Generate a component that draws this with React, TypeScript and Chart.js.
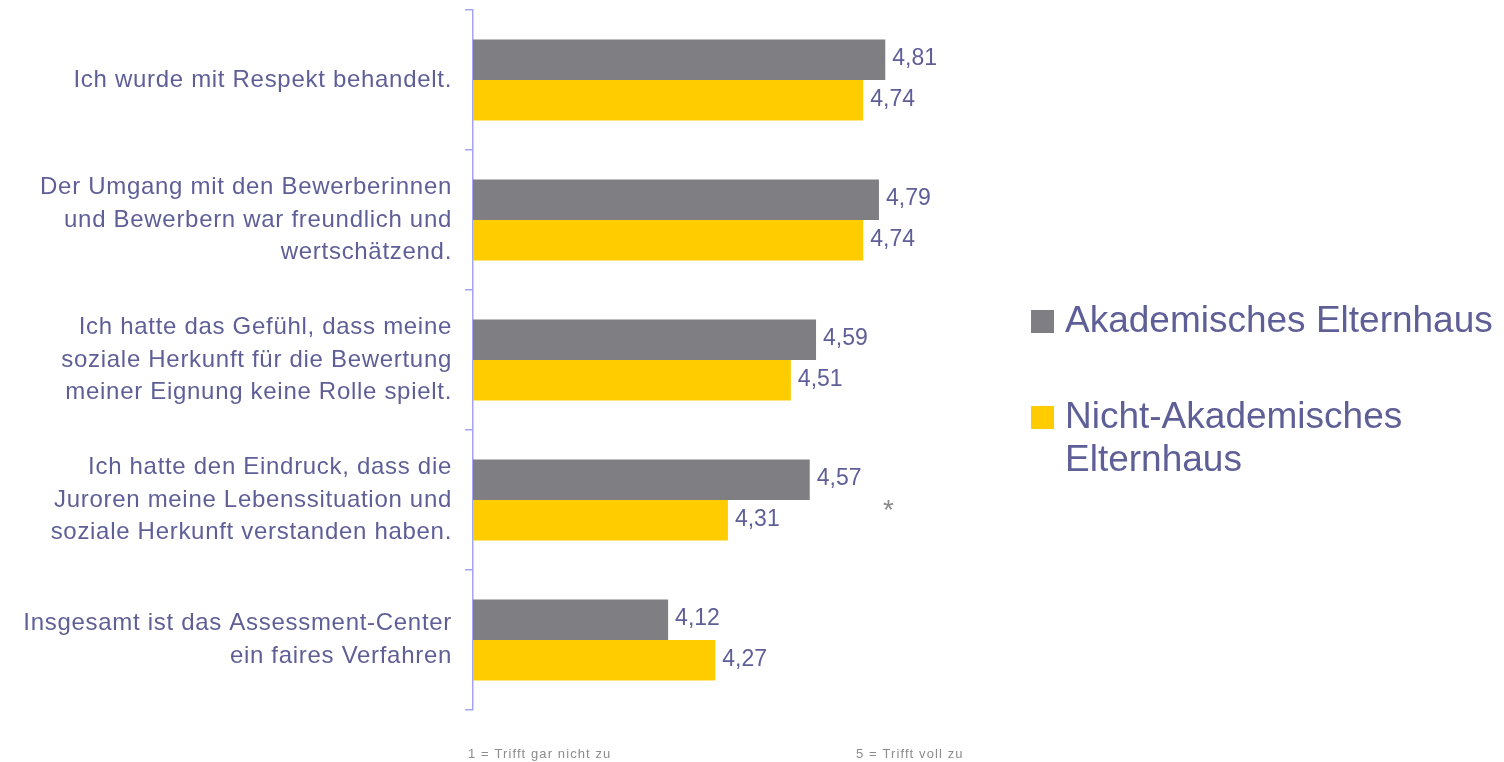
import React, { useEffect, useRef } from "react";
import { Chart, registerables } from "chart.js";

Chart.register(...registerables);

const CATEGORIES: string[][] = [
  ["Ich wurde mit Respekt behandelt."],
  ["Der Umgang mit den Bewerberinnen", "und Bewerbern war freundlich und", "wertschätzend."],
  ["Ich hatte das Gefühl, dass meine", "soziale Herkunft für die Bewertung", "meiner Eignung keine Rolle spielt."],
  ["Ich hatte den Eindruck, dass die", "Juroren meine Lebenssituation und", "soziale Herkunft verstanden haben."],
  ["Insgesamt ist das Assessment-Center", "ein faires Verfahren"],
];

const SERIES_NAMES = ["Akademisches Elternhaus", "Nicht-Akademisches Elternhaus"];
const LEGEND_LINES: string[][] = [["Akademisches Elternhaus"], ["Nicht-Akademisches", "Elternhaus"]];
const AKADEMISCH = [4.81, 4.79, 4.59, 4.57, 4.12];
const NICHT_AKADEMISCH = [4.74, 4.74, 4.51, 4.31, 4.27];
const SIGNIFICANCE = ["", "", "", "*", ""];
const STAR_VALUE = 4.82;
const SCALE_NOTES = ["1 = Trifft gar nicht zu", "5 = Trifft voll zu"];

const X_MIN = 3.5;
const X_MAX = 5.2;

const GRAY = "#7f7e83";
const YELLOW = "#ffcc00";
const PURPLE = "#5f5f98";
const AXIS = "#a4a4f4";
const FONT = "'Liberation Sans', Arial, sans-serif";

export default function App() {
  const ref = useRef<HTMLCanvasElement | null>(null);

  useEffect(() => {
    document.body.style.margin = "0";
    const canvas = ref.current;
    if (!canvas) return;

    const spacingPlugin = {
      id: "spacing",
      beforeUpdate(chart: any) {
        chart.ctx.letterSpacing = "0.7px";
      },
      beforeDraw(chart: any) {
        chart.ctx.letterSpacing = "0.7px";
      },
    };

    const overlayPlugin = {
      id: "overlay",
      afterDatasetsDraw(chart: any) {
        const ctx = chart.ctx as CanvasRenderingContext2D;
        ctx.save();
        ctx.letterSpacing = "0px";
        ctx.font = `23px ${FONT}`;
        ctx.fillStyle = PURPLE;
        ctx.textAlign = "left";
        ctx.textBaseline = "middle";
        chart.data.datasets.forEach((ds: any, di: number) => {
          const meta = chart.getDatasetMeta(di);
          meta.data.forEach((el: any, i: number) => {
            const v = ds.data[i] as number;
            ctx.fillText(v.toFixed(2).replace(".", ","), el.x + 7, el.y - 1);
          });
        });

        // significance markers
        const xs = chart.scales.x;
        const ys = chart.scales.y;
        ctx.font = `28px ${FONT}`;
        ctx.fillStyle = "#8a8a8a";
        ctx.textAlign = "center";
        ctx.textBaseline = "alphabetic";
        SIGNIFICANCE.forEach((s, i) => {
          if (!s) return;
          ctx.fillText(s, xs.getPixelForValue(STAR_VALUE), ys.getPixelForValue(i) + 19);
        });

        // legend
        const colors = [GRAY, YELLOW];
        const legendTops = [310, 406];
        ctx.font = `37px ${FONT}`;
        ctx.textAlign = "left";
        LEGEND_LINES.forEach((lines, i) => {
          ctx.fillStyle = colors[i];
          ctx.fillRect(1031, legendTops[i], 23, 23);
          ctx.fillStyle = PURPLE;
          lines.forEach((line, j) => {
            ctx.fillText(line, 1065, legendTops[i] + 22 + j * 43);
          });
        });

        // scale notes
        ctx.font = `13px ${FONT}`;
        ctx.letterSpacing = "1.1px";
        ctx.fillStyle = "#8c8c8c";
        ctx.fillText(SCALE_NOTES[0], 468, 758);
        ctx.fillText(SCALE_NOTES[1], 856, 758);
        ctx.restore();
      },
    };

    const chart = new Chart(canvas, {
      type: "bar",
      data: {
        labels: CATEGORIES,
        datasets: [
          {
            label: SERIES_NAMES[0],
            data: AKADEMISCH,
            backgroundColor: GRAY,
            borderWidth: 0,
            categoryPercentage: 0.58,
            barPercentage: 1,
          },
          {
            label: SERIES_NAMES[1],
            data: NICHT_AKADEMISCH,
            backgroundColor: YELLOW,
            borderWidth: 0,
            categoryPercentage: 0.58,
            barPercentage: 1,
          },
        ],
      },
      options: {
        indexAxis: "y",
        animation: false,
        responsive: false,
        maintainAspectRatio: false,
        layout: { padding: { left: 0, top: 10, bottom: 52, right: 496 } },
        plugins: {
          legend: { display: false },
          tooltip: { enabled: false },
        },
        scales: {
          x: {
            display: false,
            min: X_MIN,
            max: X_MAX,
          },
          y: {
            afterFit: (s: any) => {
              s.width = 473;
              s.paddingTop = 0;
              s.paddingBottom = 0;
            },
            border: { display: true, color: AXIS, width: 1.5 },
            grid: {
              display: true,
              drawOnChartArea: false,
              drawTicks: true,
              tickLength: 8,
              color: AXIS,
              lineWidth: 1.5,
              offset: true,
            },
            ticks: {
              color: PURPLE,
              padding: 13,
              font: { family: FONT, size: 24, lineHeight: 1.35 },
              crossAlign: "near",
            },
          },
        },
      },
      plugins: [spacingPlugin, overlayPlugin],
    });

    return () => chart.destroy();
  }, []);

  return <canvas ref={ref} width={1504} height={762} style={{ display: "block" }} />;
}
